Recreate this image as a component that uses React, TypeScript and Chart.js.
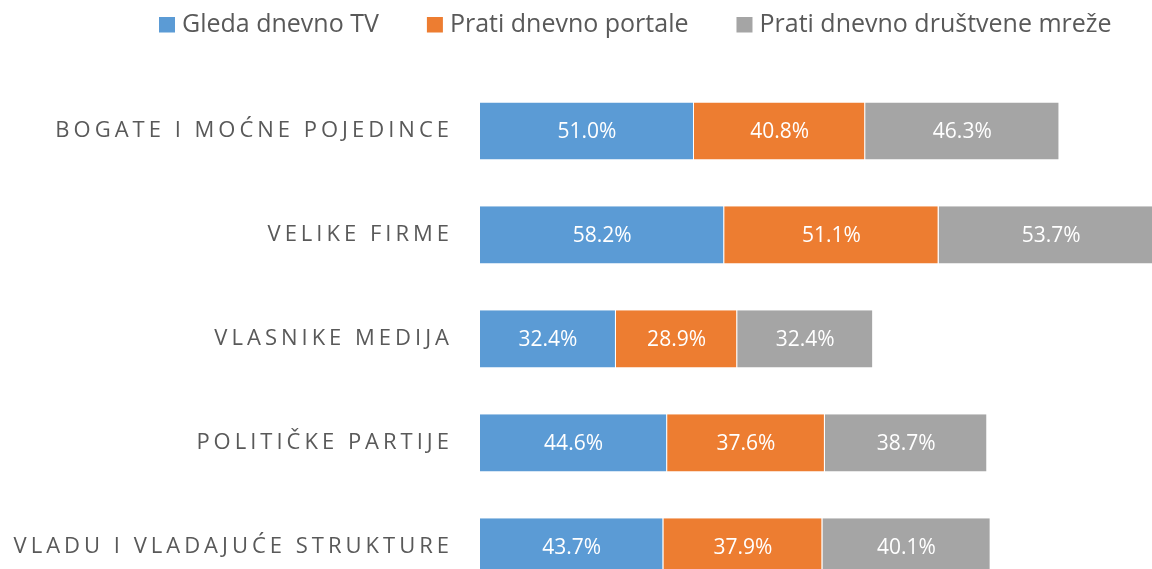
import React, { useEffect, useRef } from "react";
import { Chart, registerables } from "chart.js";

Chart.register(...registerables);

const categories = [
  "BOGATE I MOĆNE POJEDINCE",
  "VELIKE FIRME",
  "VLASNIKE MEDIJA",
  "POLITIČKE PARTIJE",
  "VLADU I VLADAJUĆE STRUKTURE",
];
const seriesNames = ["Gleda dnevno TV", "Prati dnevno portale", "Prati dnevno društvene mreže"];
const tvValues = [51.0, 58.2, 32.4, 44.6, 43.7];
const portalValues = [40.8, 51.1, 28.9, 37.6, 37.9];
const socialValues = [46.3, 53.7, 32.4, 38.7, 40.1];
const seriesColors = ["#5B9BD5", "#ED7D31", "#A5A5A5"];

const FONT = "'Open Sans', 'Noto Sans', sans-serif";
const TEXT_COLOR = "#595959";

const dataLabelPlugin = {
  id: "dataLabels",
  afterDatasetsDraw(chart: any) {
    const ctx = chart.ctx;
    ctx.save();
    ctx.fillStyle = "#ffffff";
    ctx.font = `21px ${FONT}`;
    ctx.textAlign = "center";
    ctx.textBaseline = "middle";
    chart.data.datasets.forEach((ds: any, di: number) => {
      const meta = chart.getDatasetMeta(di);
      meta.data.forEach((el: any, i: number) => {
        const v = ds.data[i];
        const cx = (el.x + el.base) / 2;
        ctx.fillText(v.toFixed(1) + "%", cx, el.y + 1);
      });
    });
    ctx.restore();
  },
};

const legendPlugin = {
  id: "customLegend",
  afterDraw(chart: any) {
    const ctx = chart.ctx;
    ctx.save();
    ctx.font = `25px ${FONT}`;
    ctx.textBaseline = "middle";
    ctx.textAlign = "left";
    const box = 16;
    const gapText = 7;
    const gapItem = 48;
    const items = chart.data.datasets.map((ds: any) => ({
      label: ds.label,
      color: ds.backgroundColor,
      w: ctx.measureText(ds.label).width,
    }));
    const total =
      items.reduce((s: number, it: any) => s + box + gapText + it.w, 0) + gapItem * (items.length - 1);
    let x = Math.round(635 - total / 2);
    const cy = 24.5;
    items.forEach((it: any) => {
      ctx.fillStyle = it.color;
      ctx.fillRect(x, 17, box, 15.5);
      ctx.fillStyle = TEXT_COLOR;
      ctx.fillText(it.label, x + box + gapText, cy);
      x += box + gapText + it.w + gapItem;
    });
    ctx.restore();
  },
};

const letterSpacingPlugin = {
  id: "yLetterSpacing",
  afterLayout(chart: any) {
    const s = chart.scales.y;
    if (s && !s.__wrapped) {
      const orig = s.drawLabels.bind(s);
      s.drawLabels = (area: any) => {
        const ctx = chart.ctx;
        ctx.save();
        (ctx as any).letterSpacing = "4px";
        orig(area);
        ctx.restore();
      };
      s.__wrapped = true;
    }
  },
};

export default function App() {
  const ref = useRef<HTMLCanvasElement>(null);
  useEffect(() => {
    if (!ref.current) return;
    const chart = new Chart(ref.current, {
      type: "bar",
      data: {
        labels: categories,
        datasets: [
          { label: seriesNames[0], data: tvValues, backgroundColor: seriesColors[0] },
          { label: seriesNames[1], data: portalValues, backgroundColor: seriesColors[1] },
          { label: seriesNames[2], data: socialValues, backgroundColor: seriesColors[2] },
        ].map((d) => ({
          ...d,
          borderColor: "#ffffff",
          borderWidth: { right: 1 },
          borderSkipped: false,
          categoryPercentage: 1,
          barPercentage: 0.55,
        })),
      },
      options: {
        indexAxis: "y",
        animation: false,
        responsive: false,
        layout: { padding: { top: 79, left: 0, right: 0, bottom: 0 } },
        plugins: {
          legend: { display: false },
          tooltip: { enabled: false },
        },
        scales: {
          x: {
            stacked: true,
            min: 0,
            max: 171.6,
            display: false,
          },
          y: {
            stacked: true,
            grid: { display: false, drawTicks: false },
            border: { display: false },
            ticks: {
              font: { family: FONT, size: 22 },
              color: TEXT_COLOR,
              padding: 27,
            },
            afterFit(scale: any) {
              scale.width = 480;
            },
          },
        },
      },
      plugins: [dataLabelPlugin, legendPlugin, letterSpacingPlugin],
    });
    return () => chart.destroy();
  }, []);
  return (
    <div
      style={{
        position: "fixed",
        left: 0,
        top: 0,
        width: 1152,
        height: 569,
        overflow: "hidden",
        background: "#ffffff",
      }}
    >
      <canvas ref={ref} width={1200} height={639} style={{ display: "block", width: 1200, height: 639 }} />
    </div>
  );
}
